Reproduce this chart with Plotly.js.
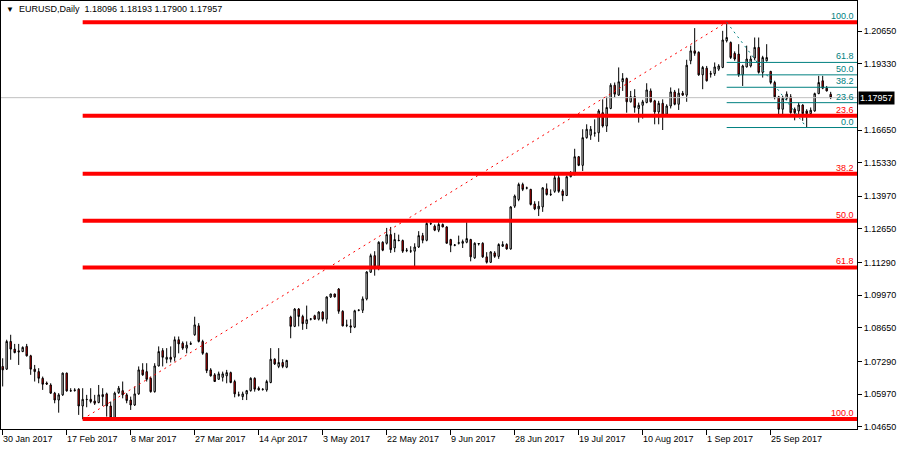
<!DOCTYPE html>
<html><head><meta charset="utf-8">
<script src="https://cdn.plot.ly/plotly-3.0.1.min.js"></script>
<style>html,body{margin:0;padding:0;background:#fff}#chart{width:900px;height:450px}</style>
</head><body><div id="chart"></div>
<script>
const symbolTitle = "EURUSD,Daily";
const lastBar = [1.18096, 1.18193, 1.17900, 1.17957];
const dateLabels = ["30 Jan 2017","17 Feb 2017","8 Mar 2017","27 Mar 2017","14 Apr 2017","3 May 2017","22 May 2017","9 Jun 2017","28 Jun 2017","19 Jul 2017","10 Aug 2017","1 Sep 2017","25 Sep 2017"];
const labelBars = [0,16,32,48,64,80,96,112,128,144,160,176,192];
const priceTicks = [1.0465,1.0597,1.0729,1.0865,1.0997,1.1129,1.1265,1.1397,1.1533,1.1665,1.1933,1.2065];

const open = [1.0709,1.0698,1.0810,1.0779,1.0772,1.0769,1.0790,1.0752,1.0698,1.0688,
1.0661,1.0642,1.0634,1.0601,1.0573,1.0594,1.0682,1.0611,1.0614,1.0617,
1.0549,1.0576,1.0576,1.0569,1.0563,1.0595,1.0598,1.0549,1.0501,1.0603,
1.0611,1.0594,1.0573,1.0553,1.0598,1.0695,1.0688,1.0661,1.0607,1.0711,
1.0773,1.0738,1.0746,1.0746,1.0817,1.0803,1.0783,1.0799,1.0837,1.0873,
1.0810,1.0762,1.0695,1.0675,1.0657,1.0665,1.0671,1.0684,1.0648,1.0594,
1.0587,1.0598,1.0611,1.0661,1.0621,1.0617,1.0614,1.0644,1.0738,1.0709,
1.0725,1.0706,1.0909,1.0871,1.0941,1.0911,1.0882,1.0900,1.0914,1.0900,
1.0929,1.0900,1.0990,1.1002,1.1022,1.0932,1.0875,1.0873,1.0868,1.0936,
1.0936,1.0982,1.1090,1.1157,1.1114,1.1211,1.1207,1.1242,1.1188,1.1219,
1.1218,1.1177,1.1175,1.1175,1.1192,1.1238,1.1219,1.1287,1.1276,1.1260,
1.1283,1.1273,1.1222,1.1199,1.1207,1.1207,1.1211,1.1222,1.1148,1.1204,
1.1207,1.1152,1.1130,1.1168,1.1154,1.1195,1.1202,1.1184,1.1357,1.1384,
1.1445,1.1431,1.1425,1.1366,1.1346,1.1354,1.1427,1.1404,1.1417,1.1472,
1.1418,1.1400,1.1476,1.1485,1.1557,1.1522,1.1634,1.1644,1.1652,1.1654,
1.1735,1.1681,1.1752,1.1846,1.1806,1.1860,1.1873,1.1779,1.1800,1.1752,
1.1765,1.1776,1.1823,1.1783,1.1738,1.1773,1.1729,1.1762,1.1819,1.1769,
1.1814,1.1806,1.1945,1.1985,1.1979,1.1888,1.1915,1.1893,1.1893,1.1911,
1.1918,1.2026,1.2019,1.1975,1.1972,1.1888,1.1920,1.1924,1.1956,1.1999,
1.1898,1.1945,1.1902,1.1857,1.1799,1.1749,1.1793,1.1799,1.1749,1.1742,
1.1766,1.1742,1.1731,1.1742,1.1812,1.1864,1.1834,1.18096];
const high = [1.0742,1.0817,1.0837,1.0800,1.0800,1.0790,1.0800,1.0756,1.0715,1.0702,
1.0668,1.0648,1.0641,1.0606,1.0601,1.0684,1.0684,1.0621,1.0621,1.0621,
1.0621,1.0594,1.0621,1.0594,1.0634,1.0621,1.0603,1.0567,1.0607,1.0630,
1.0648,1.0601,1.0587,1.0628,1.0709,1.0722,1.0722,1.0668,1.0722,1.0790,
1.0783,1.0783,1.0790,1.0830,1.0830,1.0810,1.0810,1.0810,1.0910,1.0884,
1.0817,1.0765,1.0702,1.0682,1.0688,1.0688,1.0695,1.0688,1.0655,1.0607,
1.0607,1.0614,1.0665,1.0665,1.0628,1.0621,1.0655,1.0783,1.0742,1.0783,
1.0738,1.0736,1.0914,1.0945,1.0945,1.0918,1.0955,1.0904,1.0918,1.0932,
1.0932,1.0992,1.1003,1.1003,1.1026,1.0936,1.0898,1.0900,1.0938,1.0938,
1.0992,1.1094,1.1165,1.1175,1.1215,1.1215,1.1269,1.1273,1.1249,1.1242,
1.1222,1.1188,1.1195,1.1207,1.1256,1.1249,1.1292,1.1292,1.1283,1.1292,
1.1287,1.1276,1.1225,1.1204,1.1238,1.1222,1.1292,1.1225,1.1211,1.1207,
1.1211,1.1171,1.1175,1.1175,1.1207,1.1215,1.1207,1.1357,1.1404,1.1452,
1.1452,1.1436,1.1427,1.1377,1.1377,1.1434,1.1449,1.1425,1.1485,1.1485,
1.1425,1.1481,1.1499,1.1589,1.1560,1.1668,1.1688,1.1681,1.1708,1.1749,
1.1789,1.1800,1.1854,1.1857,1.1918,1.1895,1.1877,1.1823,1.1830,1.1776,
1.1787,1.1854,1.1833,1.1787,1.1783,1.1789,1.1769,1.1837,1.1827,1.1833,
1.1823,1.1949,1.2006,1.2077,1.1983,1.1924,1.1924,1.1904,1.1938,1.1931,
1.2066,1.2101,1.2023,1.1983,1.2012,1.1929,1.2006,1.1965,1.2039,1.2039,
1.1965,1.2012,1.1904,1.1864,1.1803,1.1803,1.1821,1.1810,1.1756,1.1776,
1.1769,1.1749,1.1756,1.1816,1.1884,1.1884,1.1843,1.18193];
const low = [1.0628,1.0695,1.0736,1.0762,1.0715,1.0767,1.0749,1.0675,1.0648,1.0641,
1.0614,1.0634,1.0598,1.0560,1.0522,1.0590,1.0607,1.0607,1.0607,1.0513,
1.0496,1.0544,1.0560,1.0553,1.0560,1.0549,1.0506,1.0497,1.0497,1.0598,
1.0580,1.0560,1.0533,1.0549,1.0594,1.0671,1.0648,1.0603,1.0603,1.0709,
1.0709,1.0722,1.0725,1.0729,1.0762,1.0776,1.0762,1.0796,1.0833,1.0806,
1.0756,1.0682,1.0668,1.0647,1.0655,1.0648,1.0641,1.0641,1.0584,1.0587,
1.0573,1.0573,1.0607,1.0607,1.0611,1.0611,1.0607,1.0641,1.0715,1.0702,
1.0702,1.0702,1.0823,1.0868,1.0871,1.0857,1.0860,1.0895,1.0898,1.0895,
1.0891,1.0882,1.0986,1.0988,1.0922,1.0871,1.0868,1.0844,1.0864,1.0932,
1.0925,1.0976,1.1087,1.1076,1.1098,1.1175,1.1202,1.1168,1.1171,1.1215,
1.1168,1.1171,1.1168,1.1114,1.1188,1.1207,1.1215,1.1281,1.1256,1.1252,
1.1272,1.1206,1.1171,1.1195,1.1202,1.1188,1.1207,1.1134,1.1144,1.1198,
1.1148,1.1125,1.1127,1.1148,1.1144,1.1192,1.1181,1.1181,1.1350,1.1377,
1.1418,1.1425,1.1360,1.1341,1.1317,1.1334,1.1400,1.1398,1.1411,1.1411,
1.1377,1.1398,1.1474,1.1481,1.1519,1.1499,1.1630,1.1625,1.1638,1.1617,
1.1675,1.1657,1.1749,1.1796,1.1803,1.1823,1.1735,1.1776,1.1735,1.1695,
1.1711,1.1773,1.1776,1.1688,1.1688,1.1665,1.1725,1.1752,1.1765,1.1746,
1.1803,1.1779,1.1931,1.1965,1.1884,1.1830,1.1861,1.1877,1.1884,1.1904,
1.1915,1.2019,1.1952,1.1945,1.1880,1.1843,1.1918,1.1918,1.1947,1.1893,
1.1877,1.1942,1.1850,1.1789,1.1729,1.1729,1.1785,1.1731,1.1704,1.1729,
1.1702,1.1675,1.1729,1.1739,1.1810,1.1830,1.1821,1.17900];
const close = [1.0695,1.0810,1.0779,1.0765,1.0768,1.0786,1.0752,1.0698,1.0688,1.0661,
1.0637,1.0638,1.0601,1.0573,1.0594,1.0682,1.0610,1.0610,1.0612,1.0549,
1.0576,1.0575,1.0567,1.0560,1.0594,1.0587,1.0549,1.0501,1.0601,1.0621,
1.0594,1.0571,1.0553,1.0598,1.0695,1.0675,1.0657,1.0607,1.0711,1.0769,
1.0746,1.0746,1.0738,1.0817,1.0800,1.0783,1.0795,1.0801,1.0877,1.0810,
1.0762,1.0692,1.0671,1.0648,1.0679,1.0679,1.0684,1.0644,1.0598,1.0593,
1.0598,1.0611,1.0661,1.0617,1.0614,1.0616,1.0648,1.0738,1.0719,1.0725,
1.0709,1.0733,1.0871,1.0941,1.0911,1.0882,1.0898,1.0901,1.0900,1.0929,
1.0900,1.0990,1.1002,1.0990,1.0932,1.0873,1.0876,1.0868,1.0934,1.0937,
1.0982,1.1091,1.1157,1.1114,1.1211,1.1179,1.1242,1.1181,1.1222,1.1218,
1.1175,1.1179,1.1176,1.1192,1.1238,1.1219,1.1287,1.1286,1.1260,1.1283,
1.1273,1.1207,1.1199,1.1200,1.1209,1.1214,1.1226,1.1152,1.1207,1.1206,
1.1152,1.1130,1.1172,1.1154,1.1202,1.1202,1.1184,1.1354,1.1398,1.1445,
1.1425,1.1430,1.1364,1.1346,1.1357,1.1431,1.1404,1.1405,1.1472,1.1417,
1.1400,1.1476,1.1485,1.1557,1.1522,1.1634,1.1668,1.1668,1.1653,1.1742,
1.1681,1.1756,1.1846,1.1810,1.1860,1.1873,1.1779,1.1800,1.1756,1.1765,
1.1779,1.1827,1.1779,1.1738,1.1773,1.1722,1.1762,1.1819,1.1769,1.1814,
1.1806,1.1927,1.1985,1.1975,1.1888,1.1918,1.1864,1.1891,1.1920,1.1924,
1.2029,1.2039,1.1958,1.1952,1.1888,1.1924,1.1952,1.1952,1.1999,1.1898,
1.1958,1.1958,1.1857,1.1799,1.1749,1.1793,1.1810,1.1735,1.1735,1.1766,
1.1731,1.1731,1.1745,1.1812,1.1857,1.1834,1.1823,1.17957];

// Fibonacci retracement objects (anchors: bar index and price)
const fibLevels = [0, 23.6, 38.2, 50, 61.8, 100];
const redFib = {bar1: 20, price1: 1.0496, bar2: 181, price2: 1.2101, labels: ["23.6","38.2","50.0","61.8","100.0"], labelLevels: [23.6,38.2,50,61.8,100]};
const tealFib = {bar1: 181, price1: 1.2101, bar2: 201, price2: 1.1675, labels: ["0.0","23.6","38.2","50.0","61.8","100.0"], labelLevels: [0,23.6,38.2,50,61.8,100]};

const RED = '#ff0000', TEAL = '#008080';
const X0 = -0.42, X1 = 213.58, Y0 = 1.0456, Y1 = 1.21866;
const FONT = 'Liberation Sans, Arial, sans-serif';
const bars = open.map((_, i) => i);

const traces = [];
// current price line
traces.push({type:'scatter', mode:'lines', x:[X0, X1], y:[lastBar[3], lastBar[3]], line:{color:'#c0c0c0', width:1}, hoverinfo:'skip', showlegend:false});
traces.push({type:'candlestick', x: bars, open, high, low, close,
  increasing:{line:{color:'#000000', width:1}, fillcolor:'#ffffff'},
  decreasing:{line:{color:'#000000', width:1}, fillcolor:'#ff0000'},
  whiskerwidth: 0, showlegend:false, hoverinfo:'skip'});

function fibPrice(f, lvl) { // 0 at price2 (the later anchor), 100 at price1
  return f.price2 + (f.price1 - f.price2) * lvl / 100;
}
const annotations = [];
// red fib
traces.push({type:'scatter', mode:'lines', x:[redFib.bar1, redFib.bar2], y:[redFib.price1, redFib.price2], line:{color:RED, width:1, dash:'2px,4px'}, hoverinfo:'skip', showlegend:false});
fibLevels.forEach(l => {
  const p = fibPrice(redFib, l);
  traces.push({type:'scatter', mode:'lines', x:[redFib.bar1, X1], y:[p, p], line:{color:RED, width:4}, hoverinfo:'skip', showlegend:false});
});
redFib.labels.forEach((t, k) => {
  annotations.push({xref:'x', yref:'y', x:213.1, y:fibPrice(redFib, redFib.labelLevels[k]), text:t, showarrow:false, xanchor:'right', yanchor:'bottom', yshift:0, borderpad:0, font:{family:FONT, size:9, color:RED}});
});
// teal fib
traces.push({type:'scatter', mode:'lines', x:[tealFib.bar1, tealFib.bar2], y:[tealFib.price1, tealFib.price2], line:{color:TEAL, width:1, dash:'2px,4px'}, hoverinfo:'skip', showlegend:false});
fibLevels.slice(0,5).forEach(l => {
  const p = fibPrice(tealFib, l);
  traces.push({type:'scatter', mode:'lines', x:[tealFib.bar1, X1], y:[p, p], line:{color:TEAL, width:1}, hoverinfo:'skip', showlegend:false});
});
tealFib.labels.forEach((t, k) => {
  annotations.push({xref:'x', yref:'y', x:213.1, y:fibPrice(tealFib, tealFib.labelLevels[k]), text:t, showarrow:false, xanchor:'right', yanchor:'bottom', yshift: 0, borderpad:0, font:{family:FONT, size:9, color:TEAL}});
});
// date labels (left-aligned at tick, MT4 style)
labelBars.forEach((b, k) => {
  annotations.push({xref:'x', yref:'paper', x:b, y:0, text:dateLabels[k], showarrow:false, xanchor:'left', yanchor:'top', yshift:-4, xshift:-1, borderpad:0, font:{family:FONT, size:9, color:'#000'}});
});
// current price box
annotations.push({xref:'paper', yref:'y', x:1, y:lastBar[3], text:lastBar[3].toFixed(5), showarrow:false, xanchor:'left', yanchor:'middle', xshift:1, bgcolor:'#000000', borderpad:1, font:{family:FONT, size:9, color:'#ffffff'}});
// header
annotations.push({xref:'paper', yref:'paper', x:0, y:1, text:'\u25BC', showarrow:false, xanchor:'left', yanchor:'top', xshift:4, yshift:-3, borderpad:0, font:{family:FONT, size:8, color:'#000'}});
annotations.push({xref:'paper', yref:'paper', x:0, y:1, text:symbolTitle + '\u00a0\u00a0' + lastBar.map(v=>v.toFixed(5)).join('\u00a0'), showarrow:false, xanchor:'left', yanchor:'top', xshift:17, yshift:-2, borderpad:0, font:{family:FONT, size:9, color:'#000'}});

const layout = {
  width:900, height:450,
  margin:{l:1, r:43, t:1, b:21},
  paper_bgcolor:'#ffffff', plot_bgcolor:'#ffffff',
  showlegend:false, boxgap:0.5,
  font:{family:FONT, size:9, color:'#000'},
  xaxis:{range:[X0, X1], showgrid:false, zeroline:false, showline:true, linecolor:'#000', linewidth:1, mirror:true,
    tickvals:labelBars, ticktext:labelBars.map(()=>''), ticks:'outside', ticklen:5, tickcolor:'#000', rangeslider:{visible:false}, fixedrange:true},
  yaxis:{range:[Y0, Y1], side:'right', showgrid:false, zeroline:false, showline:true, linecolor:'#000', linewidth:1, mirror:true,
    tickvals:priceTicks, tickformat:'.5f', ticks:'outside', ticklen:4, tickcolor:'#000', tickfont:{family:FONT, size:9, color:'#000'}, fixedrange:true},
  annotations
};
Plotly.newPlot('chart', traces, layout, {displayModeBar:false, staticPlot:true});
</script>
</body></html>
